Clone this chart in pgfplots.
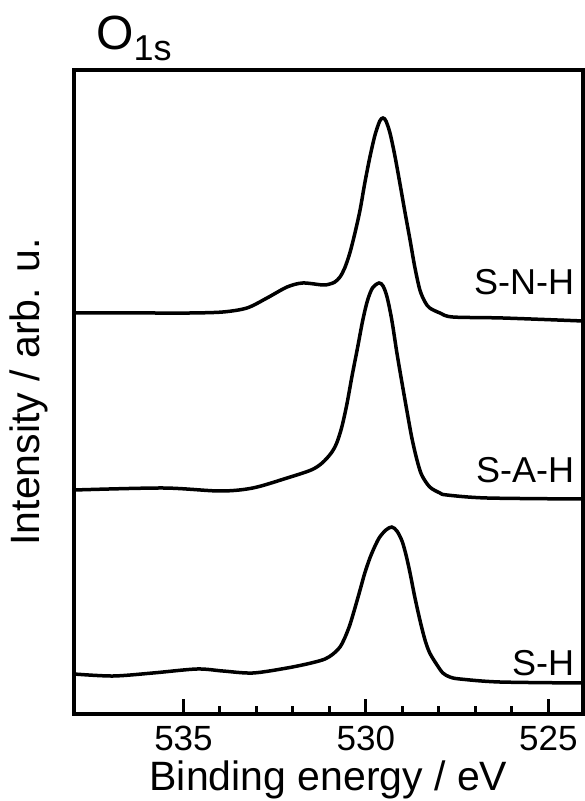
\documentclass[border=0pt]{standalone}
\usepackage{pgfplots}
\pgfplotsset{compat=1.18}
\usepackage{fontspec}
\setmainfont{Liberation Sans}
\usetikzlibrary{calc}

% O1s spectra, offset vertically (intensity in arbitrary units)
\pgfplotstableread{
E Y
538.00 401
535.92 401
534.82 401
533.92 402
533.26 406
532.71 416
532.16 427
531.73 431
531.18 429
530.99 430
530.85 432
530.71 437
530.58 446
530.44 461
530.30 481
530.16 504
530.03 531
529.89 557
529.75 579
529.62 593
529.53 596
529.45 593
529.34 581
529.21 559
529.07 531
528.93 502
528.79 474
528.66 447
528.52 424
528.38 412
528.25 406
527.97 401
527.62 397
526.25 396
524.05 393
}\snh
\pgfplotstableread{
E Y
538.00 224
535.56 226
534.00 223
533.10 226
532.16 236
531.50 244
531.20 251
530.95 261
530.80 271
530.66 287
530.52 310
530.38 338
530.23 366
530.09 393
529.96 413
529.82 426
529.64 431
529.53 428
529.42 417
529.29 394
529.15 361
529.01 331
528.88 304
528.74 276
528.60 254
528.47 239
528.25 227
527.97 221
527.78 219
526.68 216
524.05 215
}\sah
\pgfplotstableread{
E Y
538.00 40
536.93 38
535.84 41
534.63 45
533.92 43
533.10 41
532.16 46
531.50 51
531.12 55
530.90 60
530.71 67
530.58 76
530.44 89
530.30 106
530.16 124
530.03 141
529.89 156
529.75 168
529.62 177
529.45 184
529.29 187
529.15 183
529.01 173
528.90 159
528.79 141
528.66 117
528.52 94
528.38 74
528.25 61
528.05 49
527.89 41
527.70 37
527.42 35
526.33 32
524.05 31
}\sh

\begin{document}
\begin{tikzpicture}
\begin{axis}[
  scale only axis, width=509bp, height=644bp,
  x dir=reverse, xmin=524.05, xmax=538,
  ymin=0, ymax=644,
  xtick={525,530,535}, minor x tick num=4,
  xtick pos=bottom, tick align=inside,
  major tick length=15bp, minor tick length=8bp,
  ytick=\empty,
  axis line style={line width=3.5bp},
  every tick/.style={line width=3bp, black},
  xticklabel style={font=\fontsize{35bp}{42bp}\selectfont, anchor=base, yshift=-36bp},
  /pgf/number format/assume math mode=true,
  clip=false,
]
\addplot[black, line width=3.5bp, smooth, tension=0.5] table {\snh};
\addplot[black, line width=3.5bp, smooth, tension=0.5] table {\sah};
\addplot[black, line width=3.5bp, smooth, tension=0.5] table {\sh};

\node[anchor=base east, font=\fontsize{36bp}{43bp}\selectfont] at (axis cs:524.2,419) {S-N-H};
\node[anchor=base east, font=\fontsize{36bp}{43bp}\selectfont] at (axis cs:524.2,231) {S-A-H};
\node[anchor=base east, font=\fontsize{36bp}{43bp}\selectfont] at (axis cs:524.2,39) {S-H};

\node[anchor=base, font=\fontsize{41bp}{49bp}\selectfont] at ([yshift=-76bp]rel axis cs:0.5,0) {Binding energy / eV};
\node[anchor=base, rotate=90, font=\fontsize{41bp}{49bp}\selectfont] at ([xshift=-34bp]rel axis cs:0,0.5) {Intensity / arb. u.};
\node[anchor=base west, inner sep=0pt, font=\fontsize{48bp}{56bp}\selectfont] at ([xshift=22bp,yshift=20bp]rel axis cs:0,1) {O\raisebox{-11bp}{\fontsize{36bp}{43bp}\selectfont 1s}};

\coordinate (bl) at (rel axis cs:0,0);
\coordinate (tr) at (rel axis cs:1,1);
\end{axis}
\pgfresetboundingbox
\path[use as bounding box] ($(bl)+(-74bp,-87bp)$) rectangle ($(tr)+(2bp,70bp)$);
\end{tikzpicture}
\end{document}
